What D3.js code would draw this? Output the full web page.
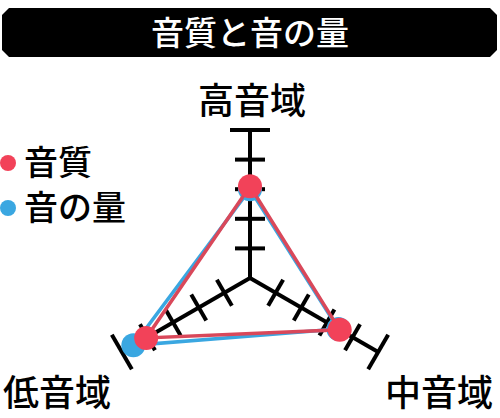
<!DOCTYPE html>
<html>
<head>
<meta charset="utf-8">
<script src="https://cdn.jsdelivr.net/npm/d3@7"></script>
<style>
  body { margin: 0; background: #fff; }
  svg { display: block; font-family: "Noto Sans CJK JP", sans-serif; }
</style>
</head>
<body>
<svg id="chart" width="500" height="418"></svg>
<script>
const title = '音質と音の量'
const axes = ['高音域', '中音域', '低音域']
const tickValues = [1, 2, 3, 4, 5]
const seriesNames = ['音質', '音の量']
const quality = [3.1, 3.5, 4.05]
const volume = [3.0, 3.45, 4.55]

const svg = d3.select('#chart')
const cx = 250
const cy = 278
const r = d3.scaleLinear().domain([0, 5]).range([0, 148])
// top, lower right, lower left
const angle = d3.scaleOrdinal().domain(axes).range([-90, 30, 150].map(a => a * Math.PI / 180))
const pt = (axis, v) => [cx + r(v) * Math.cos(angle(axis)), cy + r(v) * Math.sin(angle(axis))]

// --- title bar with chamfered corners
const x0 = 2, x1 = 497, y0 = 8, y1 = 57, c = 7
svg.append('path')
  .attr('d', `M${x0 + c},${y0}H${x1 - c}L${x1},${y0 + c}V${y1 - c}L${x1 - c},${y1}H${x0 + c}L${x0},${y1 - c}V${y0 + c}Z`)
  .attr('fill', '#000')
svg.append('text')
  .attr('x', 250).attr('y', 45)
  .attr('text-anchor', 'middle')
  .attr('fill', '#fff')
  .attr('font-size', 33).attr('font-weight', 500)
  .text(title)

// --- axes with ticks
const g = svg.append('g').attr('stroke', '#000').attr('stroke-width', 4)
axes.forEach(a => {
  const [ex, ey] = pt(a, 5)
  g.append('line').attr('x1', cx).attr('y1', cy).attr('x2', ex).attr('y2', ey)
  const px = -Math.sin(angle(a)), py = Math.cos(angle(a))
  tickValues.forEach(t => {
    const [tx, ty] = pt(a, t)
    const h = t === 5 ? 20 : 15
    g.append('line')
      .attr('x1', tx - px * h).attr('y1', ty - py * h)
      .attr('x2', tx + px * h).attr('y2', ty + py * h)
  })
})

// --- series
const series = [
  {name: seriesNames[1], values: volume, line: '#3aa7e1', dot: '#3aa7e1', rad: 12},
  {name: seriesNames[0], values: quality, line: '#d9485a', dot: '#f24259', rad: 12}
]
const line = d3.line().curve(d3.curveLinearClosed)
series.forEach(s => {
  const pts = axes.map((a, i) => pt(a, s.values[i]))
  svg.append('path')
    .attr('d', line(pts))
    .attr('fill', 'none')
    .attr('stroke', s.line)
    .attr('stroke-width', 3.5)
  svg.selectAll(null).data(pts).join('circle')
    .attr('cx', d => d[0]).attr('cy', d => d[1])
    .attr('r', s.rad)
    .attr('fill', s.dot)
})

// --- axis labels
const labels = svg.append('g').attr('font-size', 36).attr('font-weight', 500).attr('fill', '#000')
labels.append('text').attr('x', 252).attr('y', 114).attr('text-anchor', 'middle').text(axes[0])
labels.append('text').attr('x', 493).attr('y', 406).attr('text-anchor', 'end').text(axes[1])
labels.append('text').attr('x', 3).attr('y', 406).text(axes[2])

// --- legend
const legend = svg.append('g').attr('font-size', 34).attr('font-weight', 500)
const legendItems = [{name: seriesNames[0], color: '#f24259', y: 163}, {name: seriesNames[1], color: '#3aa7e1', y: 208}]
legendItems.forEach(d => {
  legend.append('circle').attr('cx', 8).attr('cy', d.y).attr('r', 8).attr('fill', d.color)
  legend.append('text').attr('x', 24).attr('y', d.y + 12).text(d.name)
})
</script>
</body>
</html>
